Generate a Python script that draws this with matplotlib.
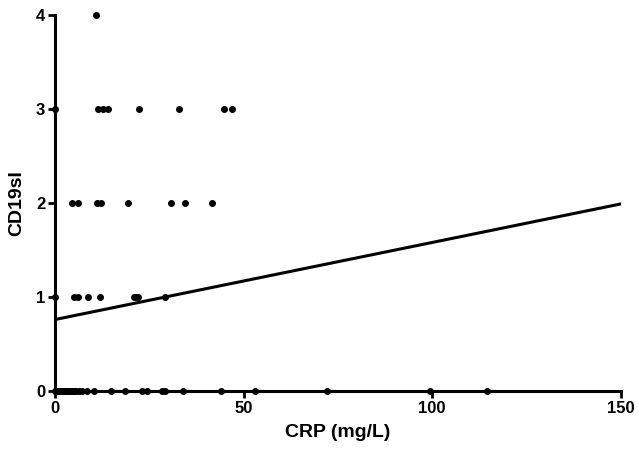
import matplotlib
matplotlib.use("Agg")
import matplotlib.pyplot as plt

plt.rcParams["font.family"] = ["Liberation Sans", "DejaVu Sans"]

# CRP (mg/L) values grouped by CD19sI score
crp_0 = [0, 0.3, 0.6, 1.0, 1.4, 1.8, 2.2, 2.6, 3.0, 3.5, 4.0, 4.5, 5.0, 5.6,
         6.3, 7.1, 8.4, 10.3, 14.8, 18.6, 23.1, 24.5, 28.3, 29.2, 34.0,
         44.1, 53.1, 72.0, 99.3, 114.5]
crp_1 = [0, 5.1, 6.0, 8.8, 11.9, 21.0, 21.6, 21.9, 29.2]
crp_2 = [4.6, 6.2, 11.2, 12.2, 19.3, 30.7, 34.5, 41.6]
crp_3 = [0, 11.5, 12.8, 14.0, 22.4, 32.8, 44.9, 47.0]
crp_4 = [10.9]
scores = [0, 1, 2, 3, 4]

fit_x = [0, 150]
fit_y = [0.76, 1.99]

fig = plt.figure(figsize=(6.38, 4.54), dpi=100)
ax = fig.add_axes([0.0862, 0.1388, 0.8868, 0.8282])

for score, xs in zip(scores, [crp_0, crp_1, crp_2, crp_3, crp_4]):
    ax.scatter(xs, [score] * len(xs), s=16, color="black", zorder=3, clip_on=False)

ax.plot(fit_x, fit_y, color="black", linewidth=2.2)

ax.set_xlim(0, 150)
ax.set_ylim(0, 4)
ax.set_xticks([0, 50, 100, 150])
ax.set_yticks([0, 1, 2, 3, 4])
for side in ["top", "right"]:
    ax.spines[side].set_visible(False)
for side in ["left", "bottom"]:
    ax.spines[side].set_linewidth(2.2)
ax.tick_params(width=2.0, length=5, labelsize=12, pad=2)
for label in ax.get_xticklabels() + ax.get_yticklabels():
    label.set_fontweight("bold")

ax.set_xlabel("CRP (mg/L)", fontsize=14, fontweight="bold", labelpad=6)
ax.set_ylabel("CD19sI", fontsize=14, fontweight="bold", labelpad=8)

fig.savefig("out.png", dpi=100)
